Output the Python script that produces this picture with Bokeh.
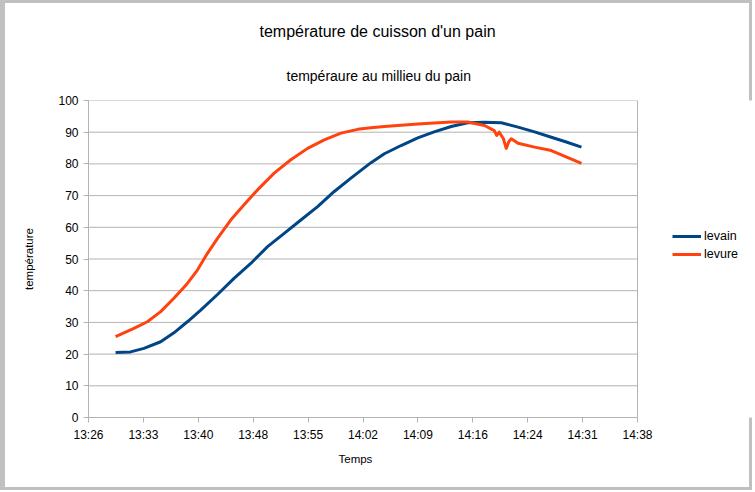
from bokeh.plotting import figure
from bokeh.models import FixedTicker, Legend, LegendItem, Range1d, Title
from bokeh.embed import file_html
from bokeh.resources import INLINE

# ---- data ----
title_text = "température de cuisson d'un pain"
subtitle_text = "tempéraure au millieu du pain"
x_label = "Temps"
y_label = "température"

levain_times = ["13:29:57", "13:31:55", "13:33:40", "13:35:52", "13:37:36", "13:39:22",
                "13:41:07", "13:43:19", "13:45:29", "13:47:41", "13:49:53", "13:52:04",
                "13:54:15", "13:56:27", "13:58:38", "14:00:49", "14:03:27", "14:05:12",
                "14:07:24", "14:09:35", "14:11:44", "14:13:58", "14:16:09", "14:18:20",
                "14:20:32", "14:22:44", "14:24:54", "14:27:06", "14:29:04", "14:31:03"]
levain_values = [20.5, 20.7, 21.8, 23.9, 26.7, 30.2,
                 33.9, 38.8, 43.9, 48.6, 53.9, 58.1,
                 62.3, 66.5, 71.3, 75.5, 80.4, 83.2,
                 85.8, 88.2, 90.1, 91.8, 93.0, 93.1,
                 93.0, 91.6, 90.1, 88.4, 86.9, 85.3]

levure_times = ["13:29:57", "13:32:21", "13:34:07", "13:35:52", "13:37:36", "13:39:22",
                "13:40:41", "13:42:00", "13:43:19", "13:45:03", "13:46:48", "13:48:34",
                "13:50:45", "13:52:56", "13:55:08", "13:57:19", "13:59:31", "14:01:42",
                "14:03:27", "14:05:12", "14:07:24", "14:09:35", "14:11:44", "14:13:58",
                "14:16:09", "14:18:20", "14:19:37", "14:19:56", "14:20:16", "14:20:48",
                "14:21:11", "14:21:31", "14:21:51", "14:22:44", "14:24:54", "14:27:06",
                "14:31:03"]
levure_values = [25.5, 28.1, 30.2, 33.4, 37.6, 42.3,
                 46.5, 51.8, 56.5, 62.3, 67.1, 71.8,
                 77.1, 81.3, 84.9, 87.6, 89.7, 90.9,
                 91.4, 91.8, 92.2, 92.6, 92.9, 93.2,
                 93.2, 92.1, 90.5, 89.0, 90.0, 88.0,
                 84.9, 87.0, 87.9, 86.5, 85.3, 84.2,
                 80.2]

x_tick_labels = ["13:26", "13:33", "13:40", "13:48", "13:55", "14:02", "14:09",
                 "14:16", "14:24", "14:31", "14:38"]
x_tick_start = "13:26:24"
x_tick_step_s = 432
y_ticks = [0, 10, 20, 30, 40, 50, 60, 70, 80, 90, 100]


def to_s(t):
    h, m, s = (int(v) for v in t.split(":"))
    return h * 3600 + m * 60 + s


lev_x = [to_s(t) for t in levain_times]
lvr_x = [to_s(t) for t in levure_times]
t0 = to_s(x_tick_start)
x_ticks = [t0 + i * x_tick_step_s for i in range(len(x_tick_labels))]

FONT = "Liberation Sans"
GRID = "#b3b3b3"
FRAME = "#c0c0c0"

# layout (pixels): plot area 88..637 wide, legend drawn to its right inside the canvas
W, H = 752, 490
LEFT, TOP, BOTTOM = 88, 100, 73
AXIS_W = 549
span = x_ticks[-1] - x_ticks[0]
x_end = x_ticks[0] + span * (W - LEFT) / AXIS_W

p = figure(width=W, height=H, output_backend="svg", toolbar_location=None, title=None,
           x_range=Range1d(x_ticks[0], x_end), y_range=Range1d(0, 100),
           min_border_left=LEFT, min_border_right=0, min_border_top=TOP,
           min_border_bottom=BOTTOM)
p.background_fill_color = "white"
p.border_fill_color = "white"
p.border_fill_alpha = 0
p.outline_line_color = None
p.xgrid.grid_line_color = None
p.ygrid.grid_line_color = None
# grey window frame around the chart object
p.styles = {"box-shadow": f"inset 5px 3px 0 0 {FRAME}, inset -3px -3px 0 0 {FRAME}",
            "background-color": "white"}

# horizontal grid lines and right border of the plot area
n = len(y_ticks)
p.segment(x0=[x_ticks[0]] * n, x1=[x_ticks[-1]] * n, y0=y_ticks, y1=y_ticks,
          line_color=GRID, line_width=1)
p.segment(x0=[x_ticks[-1]], x1=[x_ticks[-1]], y0=[y_ticks[0]], y1=[y_ticks[-1]],
          line_color=GRID, line_width=1)

r1 = p.line(lev_x, levain_values, line_color="#004586", line_width=3, line_join="round")
r2 = p.line(lvr_x, levure_values, line_color="#ff420e", line_width=3, line_join="round")

p.xaxis.ticker = FixedTicker(ticks=x_ticks)
p.xaxis.bounds = (x_ticks[0], x_ticks[-1])
p.xaxis.major_label_overrides = {t: l for t, l in zip(x_ticks, x_tick_labels)}
p.yaxis.ticker = FixedTicker(ticks=y_ticks)
for ax in (p.xaxis, p.yaxis):
    ax.axis_line_color = GRID
    ax.major_tick_line_color = GRID
    ax.minor_tick_line_color = None
    ax.major_tick_out = 5
    ax.major_tick_in = 0
    ax.major_label_standoff = 5
    ax.major_label_text_font = FONT
    ax.major_label_text_font_size = "12px"
    ax.major_label_text_color = "#000000"
    ax.axis_label_text_font = FONT
    ax.axis_label_text_font_size = "11.5px"
    ax.axis_label_text_font_style = "normal"
    ax.axis_label_text_color = "#000000"
p.yaxis.axis_label = y_label
p.yaxis.axis_label_standoff = 20

p.add_layout(Title(text=x_label, align="left", offset=250, standoff=12,
                   text_font=FONT, text_font_size="11.5px", text_font_style="normal",
                   text_color="#000000"), "below")

legend = Legend(items=[LegendItem(label="levain", renderers=[r1]),
                       LegendItem(label="levure", renderers=[r2])],
                location=(584, 155), orientation="vertical",
                glyph_width=29, glyph_height=16, label_height=16, spacing=2,
                label_standoff=3, padding=0, margin=0,
                border_line_color=None, background_fill_alpha=0,
                label_text_font=FONT, label_text_font_size="12.5px",
                label_text_color="#000000")
p.add_layout(legend, "center")

p.add_layout(Title(text=subtitle_text, align="left", offset=198, standoff=34,
                   text_font=FONT, text_font_size="14px", text_font_style="normal",
                   text_color="#000000"), "above")
p.add_layout(Title(text=title_text, align="left", offset=171, standoff=18,
                   text_font=FONT, text_font_size="16px", text_font_style="normal",
                   text_color="#000000"), "above")

open("out.html", "w").write(file_html(p, INLINE))
